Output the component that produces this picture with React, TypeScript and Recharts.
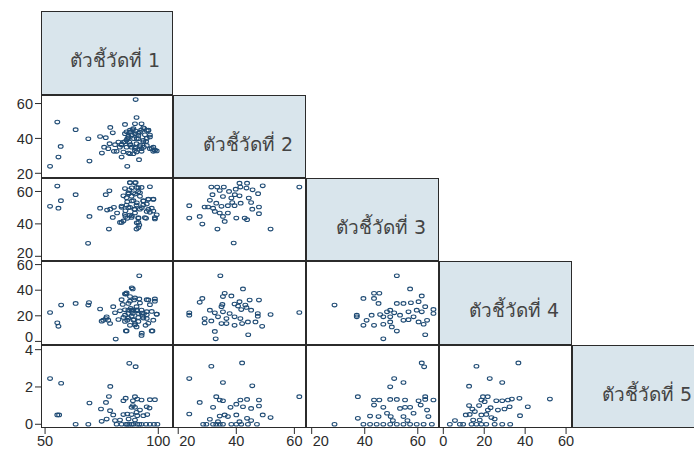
import React from "react";
import { ScatterChart, Scatter, XAxis, YAxis } from "recharts";

// variable names shown on the diagonal
const varLabels = [
  "ตัวชี้วัดที่ 1",
  "ตัวชี้วัดที่ 2",
  "ตัวชี้วัดที่ 3",
  "ตัวชี้วัดที่ 4",
  "ตัวชี้วัดที่ 5",
];

// tick values for each variable
const colTicks = [[50, 100], [20, 40, 60], [20, 40, 60], [0, 20, 40, 60]];
const rowTicks = [[], [20, 40, 60], [20, 40, 60], [0, 20, 40, 60], [0, 2, 4]];

// [x, y] pairs per panel
const v2v1 = [
  [90, 62.3], [55.4, 49.4], [63.5, 45], [90.4, 52], [78.8, 46.3], [85.3, 48], [89.7, 48.4],
  [92.6, 48.4], [79.9, 43.2], [56.9, 35.4], [55.9, 29.3], [52.2, 24], [69.6, 27], [69.1, 39.8],
  [74.3, 41.1], [76.8, 40.4], [75.1, 31.6], [86.3, 24], [91.5, 27.8], [78.5, 37], [80.9, 36.4],
  [77.9, 34.1], [81.6, 32.6], [83.8, 36.6], [83.8, 29.3], [86.8, 31.6], [98.5, 33.1], [99.3, 32.8],
  [97.8, 35], [96.3, 40.8], [94.9, 44.6], [93.4, 46.1], [95.6, 44.6], [87.5, 43.6], [88.2, 42.1],
  [86.8, 41.3], [89.7, 42.7], [91.2, 41.7], [89.3, 39.8], [86, 38.9], [84.6, 37.9], [90.4, 37],
  [91.9, 36], [88.2, 35], [89.7, 33.1], [92.6, 34.1], [94.9, 36], [96.3, 34.1], [86, 35],
  [89, 31.2], [90.4, 32.2], [93.4, 38.9], [94.6, 38.3], [87.5, 31.2], [83, 35], [85.3, 42.7],
  [91.9, 43.6], [94.1, 42.1], [82.4, 37.9], [80.4, 32.6], [76.1, 35], [87.2, 37.9], [91.2, 39.8],
  [88.7, 45], [86.3, 39.8], [92.6, 32.6], [84.6, 32.2], [97.8, 32.6], [90, 35], [87.7, 36.4],
  [93.6, 35], [86, 43.8], [87.5, 44.7], [89, 45.7], [90, 44.2], [91.2, 42.9], [92.4, 44.7],
  [93.8, 45.7], [95.6, 44.7], [96.3, 41.9], [94.9, 40], [93.4, 38.1], [90.5, 40], [88.3, 41.9],
  [86.8, 40.3], [85.3, 38.1], [83.8, 36.2], [87.5, 36.2], [89.7, 34.3], [91.9, 35.2], [97.1, 34.3],
  [98.5, 33.3],
];

const v3v1 = [
  [55.4, 63.3], [63.5, 58], [57, 54.3], [52.2, 50.8], [55.9, 49.7], [69.6, 44.6], [69, 28],
  [78.2, 36.8], [87.5, 65.5], [90, 65.5], [96.3, 62.9], [92.6, 62.5], [90.4, 62.5], [87.2, 61],
  [78.4, 60.4], [76.8, 58], [84.6, 57.3], [86.8, 58.4], [91.2, 59.8], [89, 54.3], [86.3, 53.6],
  [93.4, 54.3], [95.6, 55.3], [97.8, 55.3], [74.3, 49.7], [78.8, 49.1], [80.4, 50.2], [83.8, 50.2],
  [87.5, 50.2], [90.4, 51.6], [94.9, 52.2], [97.1, 49.7], [77.4, 48.5], [81.8, 46.7], [85.5, 48.1],
  [89.7, 46.7], [91.9, 49.1], [94.9, 47.7], [96.3, 47.1], [79.9, 44], [83.1, 40.9], [85.5, 44.6],
  [86.3, 43.4], [88.2, 44], [91.2, 43.4], [94.6, 43.4], [98.5, 43], [99.3, 45.6], [91.2, 40.9],
  [91.6, 39.3], [90.4, 36.8], [83.8, 40.9], [87.5, 45.4], [89.4, 49.1], [86, 51.6], [88.2, 57],
  [91.9, 57], [89.7, 58.4], [85.3, 61.8], [93.4, 51.6], [87.5, 65.4], [89.7, 65.4], [88.3, 62.3],
  [91.2, 62.3], [86.8, 59.2], [89, 59.2], [91.9, 59.2], [86, 56.1], [88.3, 54.1], [90.5, 53],
  [93.4, 54.1], [95.6, 55.1], [97.8, 55.1], [83.8, 51], [86.8, 50], [89.7, 48.9], [92.7, 50],
  [95.6, 48.9], [97.8, 47.9], [85.3, 45.8], [88.3, 44.9], [91.2, 43.8], [94.1, 43.8], [98.5, 43.8],
  [84.6, 41.8], [90.5, 40.7], [91.2, 37.7],
];

const v4v1 = [
  [91.6, 51.3], [88.7, 41], [85.3, 37.1], [85.7, 37], [52.2, 22.6], [57.1, 28.4], [63.5, 29.7],
  [69.4, 30.3], [69.1, 28.4], [55.4, 14.5], [55.9, 11.8], [74.3, 25.3], [80.1, 27.1], [87.5, 35],
  [95.6, 32.4], [98.5, 33.2], [91.6, 33.2], [89.3, 32.4], [86.8, 29.7], [84.3, 28.9], [90.4, 27.1],
  [87.8, 25.8], [89, 24.5], [90.7, 23.9], [92.6, 24.5], [94.9, 23.2], [99.3, 21.3], [83.1, 23.9],
  [80.9, 22.4], [77.2, 19.2], [76.9, 17.9], [75, 15.8], [78.7, 14], [77.9, 16.6], [75.7, 16.6],
  [82.4, 17.1], [84.6, 18.7], [86.3, 16.6], [88.2, 19.7], [89.3, 17.1], [91.2, 18.7], [93.1, 19.7],
  [94.9, 17.9], [97.8, 16.6], [89.7, 13.9], [87.5, 12.6], [90.4, 11.3], [94.4, 12.6], [85.7, 8.2],
  [97.4, 8.2], [92.6, 4.7], [81.2, 1.8], [88.7, 21.8], [86.8, 21.8], [85.3, 20.5], [91.2, 21.8],
  [93.7, 21.8], [88.2, 24.5], [86.8, 24.5], [88.3, 41.9], [86, 37.9], [83.8, 32.6], [87.5, 31.4],
  [89.7, 34], [91.9, 30], [94.9, 32.6], [96.3, 28.7], [98.5, 31.4], [85.3, 24.7], [88.3, 23.4],
  [90.5, 24.7], [92.7, 22.1], [94.9, 20.8], [97.1, 23.4], [99.3, 21.3], [86.8, 18.2], [89, 16.8],
  [91.2, 15.6], [93.4, 18.2], [95.6, 14.2], [85.3, 15.6], [89.7, 12.9], [92.7, 6.4], [86, 8.2],
  [97.1, 8.2],
];

const v5v1 = [
  [87.2, 3.27], [90, 3.09], [52.2, 2.45], [57.1, 2.2], [78.8, 2.03], [78.2, 1.49], [69.6, 1.14],
  [76.9, 1.17], [84.6, 1.26], [85.6, 1.4], [89.7, 1.48], [90.7, 1.35], [92.6, 1.3], [96.3, 1.32],
  [98.5, 1.32], [88.8, 1.26], [88.8, 1.0], [89.7, 0.91], [88.2, 0.91], [94.9, 0.94], [96.1, 0.87],
  [74.7, 0.82], [78.7, 0.73], [80.1, 0.5], [55.4, 0.5], [56.2, 0.5], [75, 0.16], [77.2, 0.28],
  [83.1, 0.23], [84.6, 0.52], [86.3, 0.55], [88.2, 0.52], [90.7, 0.46], [93.4, 0.46], [95.1, 0.52],
  [90.4, 0.64], [91.9, 0.76], [86.9, 0.28], [89.7, 0.23], [63.5, 0], [69.1, 0], [81.6, 0],
  [83.8, 0], [85.7, 0], [87.2, 0], [89, 0], [90.7, 0], [92.6, 0], [94.6, 0], [96.3, 0], [98.1, 0],
  [99.6, 0], [86.3, 0], [88.2, 0], [91.6, 0], [80.9, 0.2],
];

const v3v2 = [
  [23.8, 51.2], [23.8, 43.6], [27.4, 44.6], [28.3, 39.9], [33.5, 36.8], [39.1, 28.2], [51.8, 36.8],
  [61.7, 62.7], [49.1, 63.5], [31.4, 62.7], [33.4, 62.7], [35.7, 62.7], [41.1, 65.1], [43.7, 65.1],
  [41.4, 62.7], [43.5, 62.1], [45.6, 61], [47.5, 58.6], [31.8, 58], [37.5, 60], [35.4, 56.9],
  [39.5, 58], [41.1, 57.3], [44.3, 55.9], [30.9, 54.5], [29.1, 50.4], [30.3, 50.4], [33.1, 52.8],
  [34.9, 50.8], [37.1, 51.2], [39.4, 51.2], [41.5, 52.8], [32.6, 47.7], [34.3, 46.7], [35.4, 44.6],
  [37.1, 46.7], [36, 41.5], [40, 43.6], [42.9, 43.6], [43.7, 42.6], [45.5, 49.1], [47.8, 50.4],
  [47.8, 46.3], [45.1, 53.2], [32, 49.7], [38.3, 55.9], [34.3, 60.6], [39.8, 61.4], [38.6, 53.2],
];

const v4v2 = [
  [34.5, 51.3], [42.3, 41], [36, 37.6], [35.4, 35], [28.3, 33.6], [27.4, 30.5], [23.8, 22.3],
  [23.8, 20.5], [47.8, 32.3], [61.7, 22.6], [51.8, 21], [30.9, 24.4], [32.6, 22.3], [29.1, 17.8],
  [29.1, 14.4], [31.4, 16], [33.7, 19.2], [35.2, 28.9], [34.9, 27.1], [38.3, 35.5], [41.1, 31],
  [39.4, 29.2], [41.7, 24.9], [43.5, 26.5], [44.6, 32.3], [47.4, 19.7], [48.9, 11.8], [46.6, 15.2],
  [44, 15.2], [42, 13.9], [39.4, 12.6], [36.6, 13.9], [34.9, 13.9], [32.6, 7.8], [32.9, 2],
  [44.1, 5.2], [37.7, 21.8], [39.4, 19.2], [36.6, 17.8], [43.1, 28.4], [40.6, 27.6], [45.1, 24.4],
  [47.4, 21.8], [35.4, 23.1], [41.4, 17.8],
];

const v5v2 = [
  [31.4, 3.11], [42, 3.29], [23.8, 2.45], [35.4, 2.24], [45.5, 2.06], [61.7, 1.48], [27.4, 1.17],
  [33.1, 1.48], [34.3, 1.3], [35.4, 1.26], [41.4, 1.3], [43.7, 1.33], [47.8, 1.3], [40, 1.08],
  [38, 0.91], [42.3, 0.94], [45.1, 0.85], [47.8, 0.98], [32, 0.91], [23.8, 0.55], [51.8, 0.36],
  [49.1, 0.5], [34.3, 0.44], [36, 0.5], [37.1, 0.41], [40, 0.5], [43.7, 0.32], [30.9, 0.27],
  [28.6, 0], [29.7, 0], [32, 0], [33.1, 0], [34.3, 0], [35.4, 0], [38.3, 0], [40, 0], [41.7, 0],
  [44, 0], [47.1, 0], [33.7, 0.14], [41.1, 0.14], [45.1, 0.2],
];

const v4v3 = [
  [52.1, 51.3], [57.1, 41], [39.5, 33.6], [43.5, 37.6], [45.5, 37.6], [43.5, 33.6], [45.2, 29.7],
  [61.5, 35.5], [28.6, 28.4], [37, 20.5], [37, 19.2], [47, 19.2], [45.8, 21], [42.6, 20.5],
  [43.5, 12.6], [47, 13.4], [49.6, 15.2], [50.2, 11.3], [52.1, 29.7], [54.6, 29.7], [57.4, 30.2],
  [60.3, 31], [62.8, 27.1], [65.9, 25], [65.9, 21.8], [49.6, 24.4], [51.1, 22.3], [53.3, 20.5],
  [54.6, 16.5], [56.5, 17], [58.4, 19.2], [60.3, 15.2], [62.2, 13.4], [63.5, 16.5], [62.8, 5.2],
  [47, 2], [52.1, 8.1], [49.6, 19.2], [48.4, 23.1], [56.5, 23.1], [59.6, 24.4], [61.5, 23.1],
  [40.7, 16.5], [39.5, 12.6],
];

const v5v3 = [
  [61.5, 3.29], [62.4, 3.08], [51.1, 2.45], [54.6, 2.24], [49.6, 2.01], [37.4, 1.48], [43.5, 1.3],
  [45.5, 1.3], [49.6, 1.33], [52.1, 1.33], [55.2, 1.3], [60.3, 1.26], [62.8, 1.33], [65.9, 1.3],
  [62.8, 1.48], [43.5, 1.03], [47, 0.91], [53.3, 0.85], [55.2, 0.91], [57.1, 0.91], [61.1, 1.03],
  [63.5, 0.76], [42, 0.44], [45.2, 0.41], [49.8, 0.41], [48.4, 0.59], [54.6, 0.41], [58.4, 0.59],
  [64, 0.41], [37.4, 0.32], [28.6, 0], [39.5, 0], [42, 0], [44.5, 0], [47, 0], [49.6, 0],
  [52.1, 0], [54.6, 0], [57.1, 0], [59.6, 0], [62.2, 0], [65.3, 0], [50.6, 0.2], [56.1, 0.2],
];

const v5v4 = [
  [16.2, 3.11], [36.7, 3.29], [22.7, 2.45], [28.8, 2.24], [12.6, 2.04], [52.1, 1.35], [41.3, 0.94],
  [19.4, 1.48], [21.7, 1.48], [18.6, 1.3], [20.2, 1.21], [25.9, 1.26], [28.8, 1.26], [31.6, 1.3],
  [33.5, 1.35], [37.2, 1.39], [32.4, 0.94], [29.9, 0.82], [26.7, 0.76], [23.1, 0.89], [12.6, 1.0],
  [17.5, 1.0], [37.5, 0.46], [11, 0.5], [12.9, 0.53], [15.4, 0.68], [18.6, 0.5], [21, 0.53],
  [23.5, 0.36], [25.1, 0.28], [5.7, 0.2], [14.6, 0.23], [17.8, 0.23], [3.2, 0], [8.1, 0], [9.7, 0],
  [13.8, 0], [16.2, 0], [18.6, 0], [21, 0], [25.1, 0], [28.8, 0], [32.7, 0], [21.8, 0.76],
  [14.2, 0.82],
];

const panels = [
  { row: 1, col: 0, pts: v2v1 },
  { row: 2, col: 0, pts: v3v1 },
  { row: 3, col: 0, pts: v4v1 },
  { row: 4, col: 0, pts: v5v1 },
  { row: 2, col: 1, pts: v3v2 },
  { row: 3, col: 1, pts: v4v2 },
  { row: 4, col: 1, pts: v5v2 },
  { row: 3, col: 2, pts: v4v3 },
  { row: 4, col: 2, pts: v5v3 },
  { row: 4, col: 3, pts: v5v4 },
];

// layout
const colEdges = [41, 173, 306, 439, 572, 705];
const rowEdges = [11, 95, 178, 261, 345, 428];
const xDomains = [[48.2, 106.5], [18.2, 64.0], [17.85, 68.0], [-2.1, 62.9]];
const yDomains = [[0, 1], [17.3, 64.9], [17.1, 68.3], [-2.8, 62.8], [-0.2, 4.25]];
// lowest y labels of rows 3 and 4 are nudged up, as in the original
const yNudge: Record<string, number> = { "2:20": -4, "3:0": -5 };

const INK = "#2b2b2b";
const MARK = "#1f4b74";
const FONT = "'Liberation Sans', Arial, sans-serif";

const Ring = (props: any) => {
  const { cx, cy } = props;
  if (cx == null || cy == null) return null;
  return <ellipse cx={cx} cy={cy} rx={2.4} ry={1.8} fill="none" stroke={MARK} strokeWidth={1.1} />;
};

const XTick = (props: any) => {
  const { x, y, payload, col } = props;
  // the "20" label in columns 2 and 3 sits to the right of its tick
  const shift = (col === 1 || col === 2) && payload.value === 20;
  return (
    <text
      x={shift ? x + 1 : x}
      y={y}
      dy="0.71em"
      textAnchor={shift ? "start" : "middle"}
      fill={INK}
      fontSize={14.5}
      fontFamily={FONT}
    >
      {payload.value}
    </text>
  );
};

const YTick = (props: any) => {
  const { x, y, payload, row } = props;
  const nudge = yNudge[`${row}:${payload.value}`] || 0;
  return (
    <text x={x} y={y + nudge} dy="0.36em" textAnchor="end" fill={INK} fontSize={14.5} fontFamily={FONT}>
      {payload.value}
    </text>
  );
};

function Panel({ row, col, pts }: { row: number; col: number; pts: number[][] }) {
  const left = colEdges[col];
  const top = rowEdges[row];
  const w = colEdges[col + 1] - left;
  const h = rowEdges[row + 1] - top;
  const showY = col === 0;
  const showX = row === 4;
  const yW = showY ? left : 0;
  const xH = showX ? 25 : 0;
  const data = pts.map(([x, y]) => ({ x, y }));

  return (
    <div style={{ position: "absolute", left: left - yW, top }}>
      <ScatterChart width={w + yW} height={h + xH} margin={{ top: 0, right: 0, bottom: 0, left: 0 }}>
        <XAxis
          type="number"
          dataKey="x"
          domain={xDomains[col]}
          ticks={colTicks[col]}
          allowDataOverflow
          hide={!showX}
          height={xH}
          axisLine={false}
          tickSize={6}
          tickMargin={2}
          tickLine={{ stroke: INK }}
          tick={(p: any) => <XTick {...p} col={col} />}
          interval={0}
        />
        <YAxis
          type="number"
          dataKey="y"
          domain={yDomains[row]}
          ticks={rowTicks[row]}
          allowDataOverflow
          hide={!showY}
          width={yW}
          axisLine={false}
          tickSize={6}
          tickMargin={2}
          tickLine={{ stroke: INK }}
          tick={(p: any) => <YTick {...p} row={row} />}
          interval={0}
        />
        <Scatter data={data} shape={<Ring />} isAnimationActive={false} />
      </ScatterChart>
      <div
        style={{
          position: "absolute",
          left: yW,
          top: 0,
          width: w,
          height: h,
          border: `1px solid ${INK}`,
          boxSizing: "border-box",
          pointerEvents: "none",
        }}
      />
    </div>
  );
}

function LabelBox({ i }: { i: number }) {
  const left = colEdges[i];
  const top = rowEdges[i];
  return (
    <div
      style={{
        position: "absolute",
        left,
        top,
        width: colEdges[i + 1] - left,
        height: rowEdges[i + 1] - top,
        boxSizing: "border-box",
        border: `1px solid ${INK}`,
        background: "#d9e5ec",
        display: "flex",
        alignItems: "center",
        justifyContent: "flex-end",
        paddingRight: 12,
        paddingTop: 14,
        color: "#444",
        fontSize: 19,
        fontFamily: "Tahoma, 'DejaVu Sans', 'Noto Sans', sans-serif",
        whiteSpace: "nowrap",
      }}
    >
      {varLabels[i]}
    </div>
  );
}

export default function App() {
  return (
    <div
      style={{
        position: "absolute",
        left: 0,
        top: 0,
        width: 694,
        height: 453,
        overflow: "hidden",
        background: "#fff",
        fontFamily: FONT,
      }}
    >
      <style>{`.recharts-surface { overflow: visible; }`}</style>
      {varLabels.map((_, i) => (
        <LabelBox key={i} i={i} />
      ))}
      {panels.map((p) => (
        <Panel key={`${p.row}-${p.col}`} row={p.row} col={p.col} pts={p.pts} />
      ))}
    </div>
  );
}
